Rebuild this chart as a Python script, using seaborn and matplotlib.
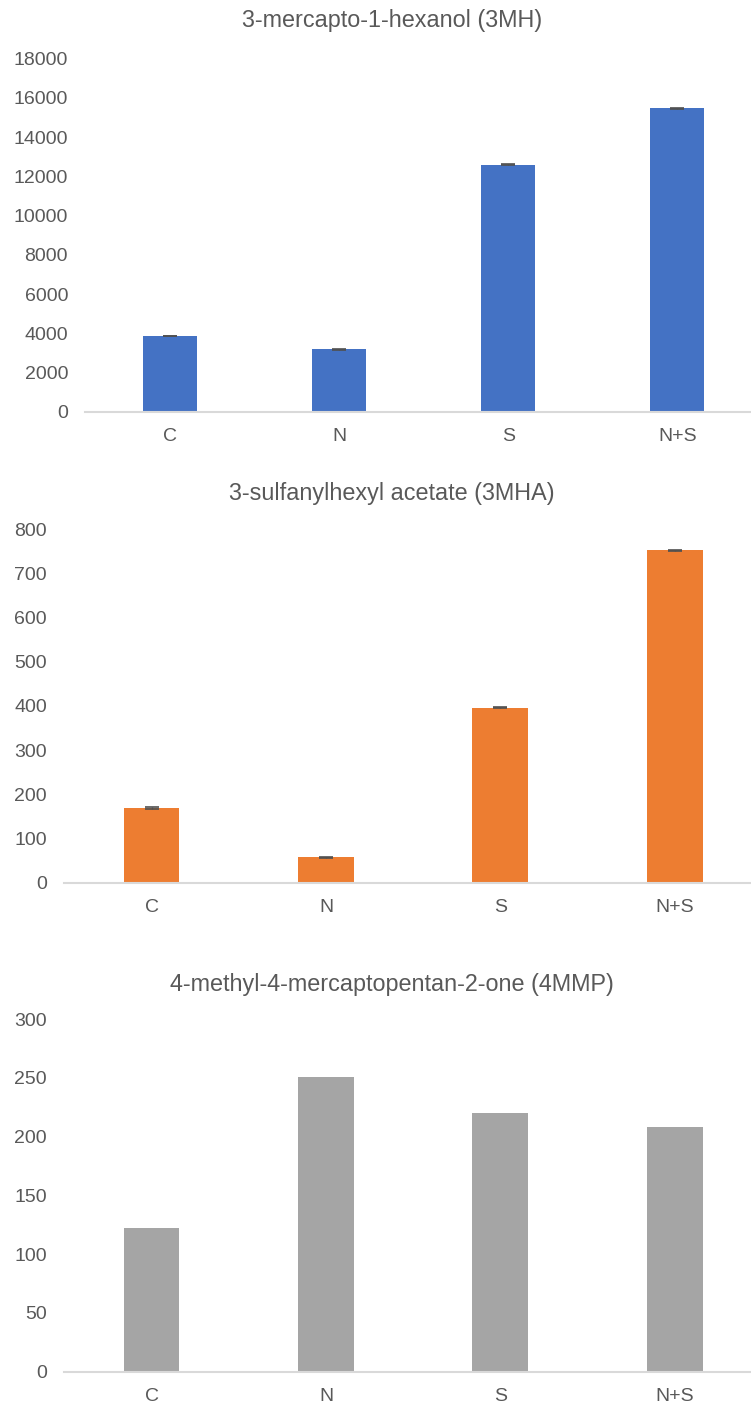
import numpy as np
import matplotlib
matplotlib.use("Agg")
import matplotlib.pyplot as plt
import seaborn as sns

# treatments on the x axis
categories = ["C", "N", "S", "N+S"]

# 3-mercapto-1-hexanol (3MH)
mh_values = [3860, 3190, 12590, 15480]
mh_err = [25, 25, 25, 25]

# 3-sulfanylhexyl acetate (3MHA)
mha_values = [169, 58, 396, 752]
mha_err = [1.2, 1.2, 1.2, 1.2]

# 4-methyl-4-mercaptopentan-2-one (4MMP)
mmp_values = [122, 251, 220, 208]

sns.set_theme(style="white")
plt.rcParams['font.family'] = ['Liberation Sans', 'DejaVu Sans']

TEXT = "#595959"
AXIS = "#D9D9D9"

fig = plt.figure(figsize=(7.51, 14.05), dpi=100)
W, H = 751, 1405


def px_axes(left, right, top, bottom):
    return fig.add_axes([left / W, 1 - bottom / H, (right - left) / W, (bottom - top) / H])


panels = [
    dict(title="3-mercapto-1-hexanol (3MH)", values=mh_values, err=mh_err,
         color="#4472C4", ymax=18000, step=2000,
         box=(85.4, 762, 58.7, 411.7), title_y=20),
    dict(title="3-sulfanylhexyl acetate (3MHA)", values=mha_values, err=mha_err,
         color="#ED7D31", ymax=800, step=100,
         box=(64.3, 762, 529, 882.7), title_y=494),
    dict(title="4-methyl-4-mercaptopentan-2-one (4MMP)", values=mmp_values, err=None,
         color="#A5A5A5", ymax=300, step=50,
         box=(64.3, 762, 1019, 1371.7), title_y=985),
]

for p in panels:
    ax = px_axes(*p["box"])
    sns.barplot(x=categories, y=p["values"], color=p["color"], saturation=1,
                width=0.32, errorbar=None, linewidth=0, ax=ax)
    if p["err"] is not None:
        ax.errorbar(np.arange(len(categories)), p["values"], yerr=p["err"],
                    fmt="none", ecolor="#505050", elinewidth=1.0, capsize=5, capthick=1.2)
    ax.set_ylim(0, p["ymax"])
    ax.set_xlim(-0.5, len(categories) - 0.5)
    ax.set_yticks(np.arange(0, p["ymax"] + 1, p["step"]))
    ax.tick_params(axis="y", length=0, pad=12.5, labelsize=14, labelcolor=TEXT)
    ax.tick_params(axis="x", length=0, pad=11.5, labelsize=14, labelcolor=TEXT)
    for side in ["top", "right", "left"]:
        ax.spines[side].set_visible(False)
    ax.spines["bottom"].set_color(AXIS)
    ax.spines["bottom"].set_linewidth(1.5)
    ax.set_xlabel("")
    ax.set_ylabel("")
    ax.grid(False)
    fig.text(392 / W, 1 - p["title_y"] / H, p["title"], ha="center", va="center",
             fontsize=16.8, color=TEXT)

fig.savefig("out.png", dpi=100)
